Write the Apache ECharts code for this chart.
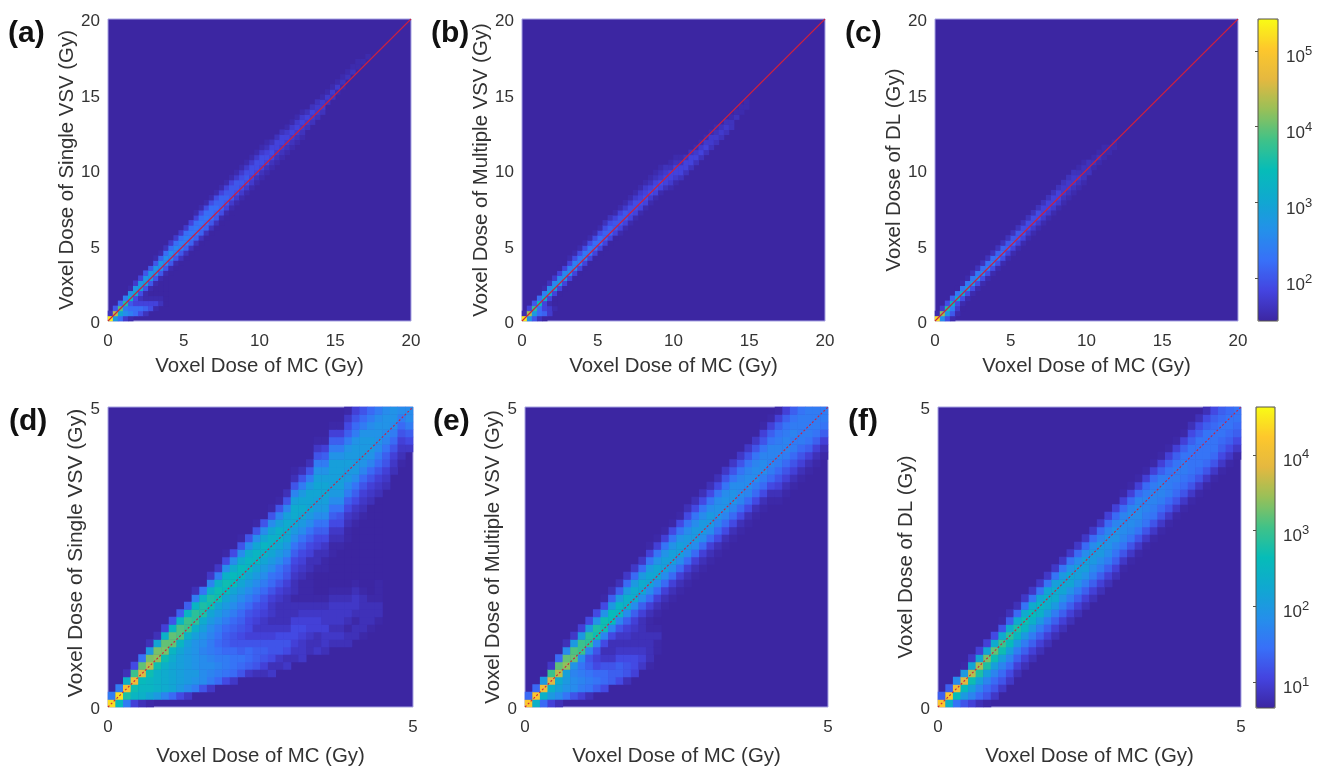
<!DOCTYPE html>
<html><head><meta charset="utf-8">
<style>html,body{margin:0;padding:0;background:#fff}#c{width:1320px;height:767px}</style>
<script src="https://cdn.jsdelivr.net/npm/echarts@6/dist/echarts.min.js"></script>
</head><body><div id="c"></div>
<script>
// Cell values: 10*log10(voxel count). Each column = [first row, value, value, ...]
const panelLetters = ['(a)','(b)','(c)','(d)','(e)','(f)'];
const xTitle = 'Voxel Dose of MC (Gy)';
const yTitles = ['Voxel Dose of Single VSV (Gy)','Voxel Dose of Multiple VSV (Gy)','Voxel Dose of DL (Gy)','Voxel Dose of Single VSV (Gy)','Voxel Dose of Multiple VSV (Gy)','Voxel Dose of DL (Gy)'];
const topMaxDose = 20, bottomMaxDose = 5, topBins = 60, bottomBins = 40;
const identityTop = [[0,0],[20,20]], identityBottom = [[0,0],[5,5]];
const columnsA = [
[0,53,16],[0,28,44,20],[0,22,30,39,22],[0,17,26,24,36,24],[0,15,24,22,20,33,26,15],[1,22,22,18,19,31,27,17],[1,19,22,18,16,19,30,27,18],[1,16,21,18,15,15,20,29,27,20],
[2,19,18,15,14,15,20,28,27,20,14],[2,15,18,15,14,14,15,20,27,27,20,15],[3,16,15,14,14,14,15,20,26,27,21,15],[3,14,14,14,14,14,14,15,20,25,26,22,16],
[9,14,15,20,25,26,22,17],[10,14,15,20,24,25,22,17],[11,14,16,20,24,24,22,17],[12,14,16,21,24,24,22,17],[13,14,16,21,23,23,22,18],[14,14,16,21,23,23,22,18,15],
[15,14,16,21,22,23,22,19,15],[16,14,16,21,22,23,22,19,15],[17,14,16,20,22,22,22,19,15],[18,14,16,20,21,22,21,19,15],[19,14,15,19,21,21,21,18,15],[20,14,15,18,20,21,20,18,15],
[21,14,15,17,20,20,20,18,15],[23,15,17,19,20,20,17,15],[24,15,17,19,20,19,17,15],[25,15,17,19,20,19,17,15],[26,15,17,18,19,19,17,15],[27,15,16,18,19,19,17,15],
[28,15,16,18,19,19,17,15],[29,15,16,18,19,18,16,15],[30,15,16,18,19,18,16],[31,15,16,17,18,18,16],[32,15,16,17,18,18,16],[33,15,16,17,18,17,15],
[34,15,16,17,18,17,15],[35,15,16,17,18,17,15],[36,15,16,17,18,17,15],[38,16,17,18,16],[39,16,17,18,16],[40,16,17,17,16],[41,16,17,17,15],[43,16,17,15],[44,16,17,15],
[45,15,17,15],[46,15,16,15],[48,16,15],[49,16,15],[50,15,15],[51,15],[52,15]];
const columnsB = [
[0,53,15],[0,27,43,18],[0,20,28,37,20],[0,16,22,22,34,22],[0,14,21,18,18,31,24,15],[1,17,17,15,18,30,25,16],[2,15,14,14,18,29,25,17],[5,14,18,28,25,18,14],
[6,14,18,27,25,18,14],[7,14,18,26,24,18,15],[8,14,18,25,24,19,15],[9,14,18,24,23,19,15],[10,14,18,24,23,19,15],[11,14,18,23,23,19,15],[12,14,18,22,22,19,15],
[13,14,18,22,22,19,15],[14,14,18,21,21,19,16],[15,14,18,21,21,19,16],[16,14,18,20,20,18,15],[17,15,18,20,20,18,15],[18,15,18,20,20,17,15],[19,15,18,19,19,17,15],
[20,15,18,19,19,17,15],[21,15,18,19,18,17,15],[22,15,18,19,18,17,15],[23,15,17,19,18,16,15],[24,15,18,19,18,16,15],[25,15,18,19,17,16,15],[26,16,18,18,17,16],
[26,15,17,18,18,16,15],[27,15,17,18,18,16,15],[28,16,18,18,16,15],[29,16,18,18,16],[30,16,18,18,16],[31,16,18,17,15],[32,16,18,17,15],[33,16,18,17,15],
[34,16,17,17,15],[35,16,17,16,15],[36,16,17,16],[37,16,17,16],[38,16,16,15],[40,16,15],[41,15,15],[42,15,15]];
const columnsC = [
[0,52,15],[0,26,42,17],[0,19,27,36,19],[0,15,20,24,33,21],[1,15,17,19,31,23,14],[2,14,15,19,30,23,15],[4,15,19,28,23,15],[5,15,19,27,23,16],[6,15,19,26,23,16],
[7,15,19,25,22,16],[8,15,19,24,22,16],[9,15,19,24,22,16],[10,15,19,23,21,16],[11,15,19,22,21,16],[12,15,18,21,20,16],[13,15,18,21,20,16],[14,15,18,20,20,16],
[15,15,18,20,19,16],[16,15,17,19,19,16],[17,15,17,19,19,16],[18,15,17,19,19,16],[19,15,17,18,18,16],[20,15,17,18,18,16],[21,15,17,18,18,16],[22,15,17,18,18,16],
[23,15,16,17,17,16],[24,15,16,17,17,16],[25,15,16,17,17,16],[26,15,16,17,16,15],[27,15,16,16,16,15],[29,16,16,16],[30,15,16,15],[31,15,16,15],[32,15,15,15],[33,15,15],[34,15,15]];
const columnsD = [
[0,44,16],[0,26,44,16],[0,16,28,41,24,8],[0,10,25,27,40,30,11],[0,8,24,25,26,38,32,15],[0,7,22,25,25,27,36,33,20,8],[1,20,24,24,24,27,34,33,22,8],[1,17,23,23,23,24,27,33,32,24,10],
[1,14,22,22,22,22,23,25,32,32,25,12],[1,11,20,21,21,21,21,22,25,31,31,25,13],[1,9,18,20,20,20,20,20,21,24,30,30,25,13],[2,16,19,20,19,19,19,19,21,24,29,29,25,16,8],
[2,12,18,18,18,18,17,18,19,21,23,28,28,24,15],[2,9,16,17,18,17,16,16,17,18,20,22,27,28,24,17,9],[3,14,16,17,16,15,14,15,16,18,20,22,27,27,24,16,9],
[3,11,15,16,16,14,13,13,14,16,18,20,22,26,27,24,18,11,7],[3,9,14,15,15,14,12,12,13,14,16,18,20,22,26,26,23,18,11],[4,12,14,15,13,12,11,12,13,14,16,18,20,22,25,26,23,18,12,7],
[4,9,13,14,14,12,10,11,11,12,14,16,18,20,22,25,25,23,18,12],[4,8,12,13,13,12,10,9,10,11,12,14,16,18,20,22,25,25,22,18,12,7],[4,8,10,12,13,12,10,9,9,10,11,12,14,16,18,20,22,24,25,22,18,12],
[4,9,8,11,12,12,10,9,8,9,9,10,12,14,15,18,20,22,24,24,22,18,12,7],[5,8,9,12,12,11,9,8,8,8,9,10,12,14,15,18,20,22,24,24,21,17,12,7],[5,9,8,11,12,11,9,8,8,8,8,9,10,12,13,15,18,20,22,23,23,21,17,12,8],
[6,8,9,10,11,11,10,8,8,7,8,8,9,10,11,13,15,18,20,22,23,23,21,17,12,8,7],[6,9,9,9,10,11,10,9,8,7,7,7,8,9,10,11,13,15,18,20,22,23,22,20,16,12,8],[7,8,8,9,10,10,9,8,7,7,7,7,8,8,10,11,13,15,18,20,22,22,22,20,16,12,8],
[7,9,8,8,10,10,9,8,7,6,6,6,7,8,8,10,11,13,15,18,20,21,22,22,21,19,16,12,9,7],[7,8,9,9,10,9,9,8,7,6,6,6,7,7,8,9,11,13,15,18,20,21,22,22,21,19,16,13,10,7],
[8,8,9,8,9,9,9,8,7,6,6,6,6,7,7,8,9,11,13,15,18,20,21,21,21,21,19,16,13,10,7],[8,8,9,8,9,9,9,8,7,6,6,6,6,6,7,8,9,11,12,15,18,20,21,21,21,21,19,16,13,10,7],
[8,8,8,7,8,9,9,8,7,6,6,6,6,6,6,7,7,8,9,11,13,16,18,20,20,21,20,19,16,13,11,9,7],[9,8,8,7,8,9,9,8,7,6,6,6,6,6,6,6,7,8,9,11,13,15,18,20,20,20,20,19,16,14,12,10],
[9,7,8,8,8,8,8,7,6,6,6,6,6,6,6,6,6,7,8,9,10,12,14,17,19,20,20,20,19,16,14,12],[10,7,8,8,8,7,6,6,6,6,6,6,6,6,6,6,6,6,8,9,10,12,14,17,19,20,20,19,18,16,14],
[11,7,8,8,7,7,7,6,6,6,6,6,6,6,6,6,6,6,8,9,10,12,14,16,18,19,19,19,18,16],[29,8,9,10,12,13,15,17,18,19,19,18],[31,8,9,10,12,14,16,18,19,19],[32,7,8,9,10,12,14,16,18],[34,9,11,13,16,18,18]];
const columnsE = [
[0,42,14],[0,24,42,14],[0,14,24,40,20],[0,10,20,24,38,30,9],[0,8,18,21,23,36,32,14],[1,15,19,20,21,34,32,18,8],[1,12,18,18,17,19,32,31,20,9],[1,10,16,17,16,15,18,30,30,20,10],
[1,8,15,16,15,13,12,17,29,29,20,11],[2,13,15,14,11,10,12,17,27,28,19,11],[2,11,14,14,12,9,8,11,17,27,27,19,11,7],[3,13,13,12,9,8,8,11,17,26,26,20,13,8],[3,11,13,13,11,9,8,9,12,17,25,25,20,13,8],
[3,8,12,12,11,9,8,9,10,13,18,24,24,20,14,9],[4,10,11,11,9,8,8,9,10,13,18,23,23,20,14,9],[5,9,10,9,8,8,8,8,10,13,18,22,23,20,14,9],[5,7,8,8,8,8,7,7,8,10,14,18,22,22,20,15,10,7],
[7,7,7,8,7,6,7,8,10,14,18,22,22,19,15,10,7],[13,7,8,10,14,18,21,21,19,15,10,7],[14,7,8,10,14,18,21,21,19,15,11,7],[15,7,8,10,14,18,21,21,19,15,11,7],[16,7,8,10,14,18,20,20,18,15,11,8],
[17,7,8,10,14,18,20,20,18,15,11,8],[18,7,8,10,14,18,20,20,18,15,11,8],[19,7,8,10,14,18,20,20,18,15,11,8],[20,7,8,11,14,17,19,19,18,15,11,8],[21,7,8,11,14,17,19,19,18,15,12,9],
[22,7,8,11,14,17,19,19,18,15,12,9],[23,7,8,11,14,17,18,18,17,15,12,9],[24,7,8,11,14,17,18,18,17,15,12,9],[25,7,8,11,14,16,18,18,17,15,12,9],[26,7,8,11,14,16,18,18,17,15,12,10,7],
[27,7,8,11,14,16,17,17,17,15,13,10,7],[27,7,8,10,12,14,16,17,17,16,15,13,10,7],[28,7,8,10,12,14,16,17,17,16,15,13,10],[29,7,8,10,12,14,16,16,17,16,15,13],[30,7,8,10,12,14,16,16,16,16,15],
[31,7,8,10,13,15,16,16,16,16],[32,7,8,10,13,15,16,16,16],[33,7,8,10,13,15,16,16]];
const columnsF = [
[0,42,13],[0,24,42,13],[0,15,26,40,18],[0,12,20,26,38,20,7],[0,10,17,21,27,36,22,9],[0,8,14,17,21,28,35,22,10],[0,7,12,14,17,21,28,33,22,10],[1,9,12,14,17,21,27,32,23,11],
[2,9,12,14,17,21,27,30,23,12,7],[3,9,11,14,17,21,26,29,23,13,8],[4,8,10,13,16,20,25,28,23,14,8],[5,8,10,13,16,20,25,27,23,15,9],[6,8,10,13,16,20,24,26,23,15,9],[7,8,10,13,16,20,24,25,22,15,9],
[8,8,10,13,16,20,23,24,22,15,9],[9,8,10,13,16,20,23,23,21,15,9],[10,8,10,13,16,19,22,22,20,15,9],[11,8,10,13,16,19,22,22,19,15,9],[12,8,10,13,16,19,21,21,18,14,9],[13,8,10,13,16,19,21,21,18,14,9],
[14,8,10,13,16,18,20,20,18,14,9],[15,8,10,13,16,18,20,20,17,14,9],[16,8,10,13,16,18,19,19,17,14,10],[17,8,10,13,15,17,19,19,17,14,10],[18,7,9,12,15,17,18,18,17,14,10,7],[19,7,9,12,15,17,18,18,17,14,10,7],
[20,7,9,12,15,17,18,18,17,14,10,7],[21,7,9,12,15,16,17,17,16,14,10,7],[22,7,9,12,15,16,17,17,16,14,10,7],[23,7,9,12,14,16,17,17,16,13,10,7],[24,7,9,12,14,16,16,16,15,13,10,7],[25,7,9,12,14,15,16,16,15,13,10,7],
[26,7,9,12,14,15,16,16,15,13,10,7],[27,7,9,12,14,15,15,15,15,13,11,8],[28,7,9,12,14,15,15,15,15,13,11,8],[29,7,9,12,14,15,15,15,15,13,11,8],[30,7,9,12,14,15,15,15,14,13,11],[31,7,9,11,13,14,15,15,14,13],
[32,7,9,11,13,14,15,15,14],[33,7,9,11,13,14,15,15]];
const allColumns = [columnsA,columnsB,columnsC,columnsD,columnsE,columnsF];
const colorStops = ['#3c26a2','#4444e0','#3870f8','#2490ea','#10a8d0','#06bcb8','#40c288','#98c058','#e4b840','#fdc72c','#f9fb15'];
const topLogRange = [1.43,5.42], bottomLogRange = [0.66,4.63];
const topBarCounts = [27,263000], bottomBarCounts = [4.6,42700];

const FONT = '"Liberation Sans", Arial, sans-serif';
const boxes = [[108,19,303,302],[522,19,303,302],[935,19,303,302],[108,407,305,301],[525,407,303,301],[938,407,303,301]];
const letterPos = [[8,19],[431,19],[845,19],[9,407],[433,407],[848,407]];
const yNameGap = [28,29,31,12,16,19];
const grid=[],xAxis=[],yAxis=[],series=[],title=[];
const binLabels = n => Array.from({length:n},(_,i)=>String(i));

boxes.forEach((b,p)=>{
  grid.push({left:b[0],top:b[1],width:b[2],height:b[3],show:true,backgroundColor:colorStops[0],borderColor:'#a7a3e2',borderWidth:1});
  const isTop=p<3, maxDose=isTop?topMaxDose:bottomMaxDose, n=isTop?topBins:bottomBins;
  const common={type:'value',min:0,max:maxDose,interval:5,axisLine:{show:false},axisTick:{show:false},splitLine:{show:false},nameLocation:'middle',
    nameTextStyle:{fontFamily:FONT,fontSize:20.4,color:'#333'},axisLabel:{fontFamily:FONT,fontSize:17,color:'#333'}};
  xAxis.push({...common,gridIndex:p,position:'bottom',name:xTitle,nameGap:isTop?35:39,axisLabel:{...common.axisLabel,margin:12}});
  yAxis.push({...common,gridIndex:p,position:'left',name:yTitles[p],nameGap:yNameGap[p],
    nameTextStyle:p===3?{fontFamily:FONT,fontSize:21,color:'#333',padding:[0,0,0,8]}:common.nameTextStyle,
    axisLabel:{margin:8,formatter:v=>'{a|'+v+'}',rich:{a:{fontFamily:FONT,fontSize:17,color:'#333',padding:[isTop?5:4,0,0,0]}}}});
  xAxis.push({type:'category',gridIndex:p,position:'top',show:false,data:binLabels(n)});
  yAxis.push({type:'category',gridIndex:p,position:'right',show:false,data:binLabels(n)});
  const cells=[];
  allColumns[p].forEach((col,i)=>col.slice(1).forEach((v,k)=>cells.push([i,col[0]+k,v/10])));
  series.push({type:'heatmap',xAxisIndex:2*p+1,yAxisIndex:2*p+1,data:cells,progressive:0,itemStyle:{borderWidth:0},emphasis:{disabled:true}});
  title.push({text:panelLetters[p],left:letterPos[p][0],top:letterPos[p][1],padding:0,textStyle:{fontFamily:FONT,fontSize:30,fontWeight:'bold',color:'#111'}});
});
boxes.forEach((b,p)=>{
  series.push({type:'line',xAxisIndex:2*p,yAxisIndex:2*p,data:p<3?identityTop:identityBottom,symbol:'none',silent:true,z:5,
    lineStyle:{color:'#cc2040',width:1.1,type:p<3?'solid':[2,2]}});
});
// colour-bar tick axes
const barBoxes=[[1258,19,20,302,topBarCounts],[1256,407,19,301,bottomBarCounts]];
barBoxes.forEach((b,k)=>{
  const g=grid.length;
  grid.push({left:b[0],top:b[1],width:b[2],height:b[3],show:true,backgroundColor:'transparent',borderColor:'#55534a',borderWidth:1,z:10});
  xAxis.push({type:'value',gridIndex:g,min:0,max:1,show:false});
  yAxis.push({type:'log',logBase:10,gridIndex:g,position:'right',min:b[4][0],max:b[4][1],z:10,axisLine:{show:false},splitLine:{show:false},
    axisTick:{show:true,inside:true,length:3,lineStyle:{color:'#55534a'}},
    axisLabel:{margin:8,showMinLabel:false,showMaxLabel:false,fontFamily:FONT,color:'#333',padding:[k?6:8,0,0,0],
      formatter:v=>{const e=Math.log10(v);return Math.abs(e-Math.round(e))<1e-6?'{b|10}{s|'+Math.round(e)+'}':'';},
      rich:{b:{fontFamily:FONT,fontSize:17,color:'#333',padding:[6,0,0,0]},s:{fontFamily:FONT,fontSize:13,color:'#333',padding:[0,0,6,0]}}}});
});
const vm=(idx,range,b)=>({type:'continuous',seriesIndex:idx,dimension:2,min:range[0],max:range[1],show:true,calculable:false,hoverLink:false,
  left:b[0],top:b[1],itemWidth:b[2],itemHeight:b[3],text:null,padding:0,
  inRange:{color:colorStops},outOfRange:{color:[colorStops[0]]}});
const chart=echarts.init(document.getElementById('c'),null,{renderer:'canvas'});
chart.setOption({animation:false,backgroundColor:'#fff',title,grid,xAxis,yAxis,series,
  visualMap:[vm([0,1,2],topLogRange,barBoxes[0]),vm([3,4,5],bottomLogRange,barBoxes[1])]});
</script></body></html>
